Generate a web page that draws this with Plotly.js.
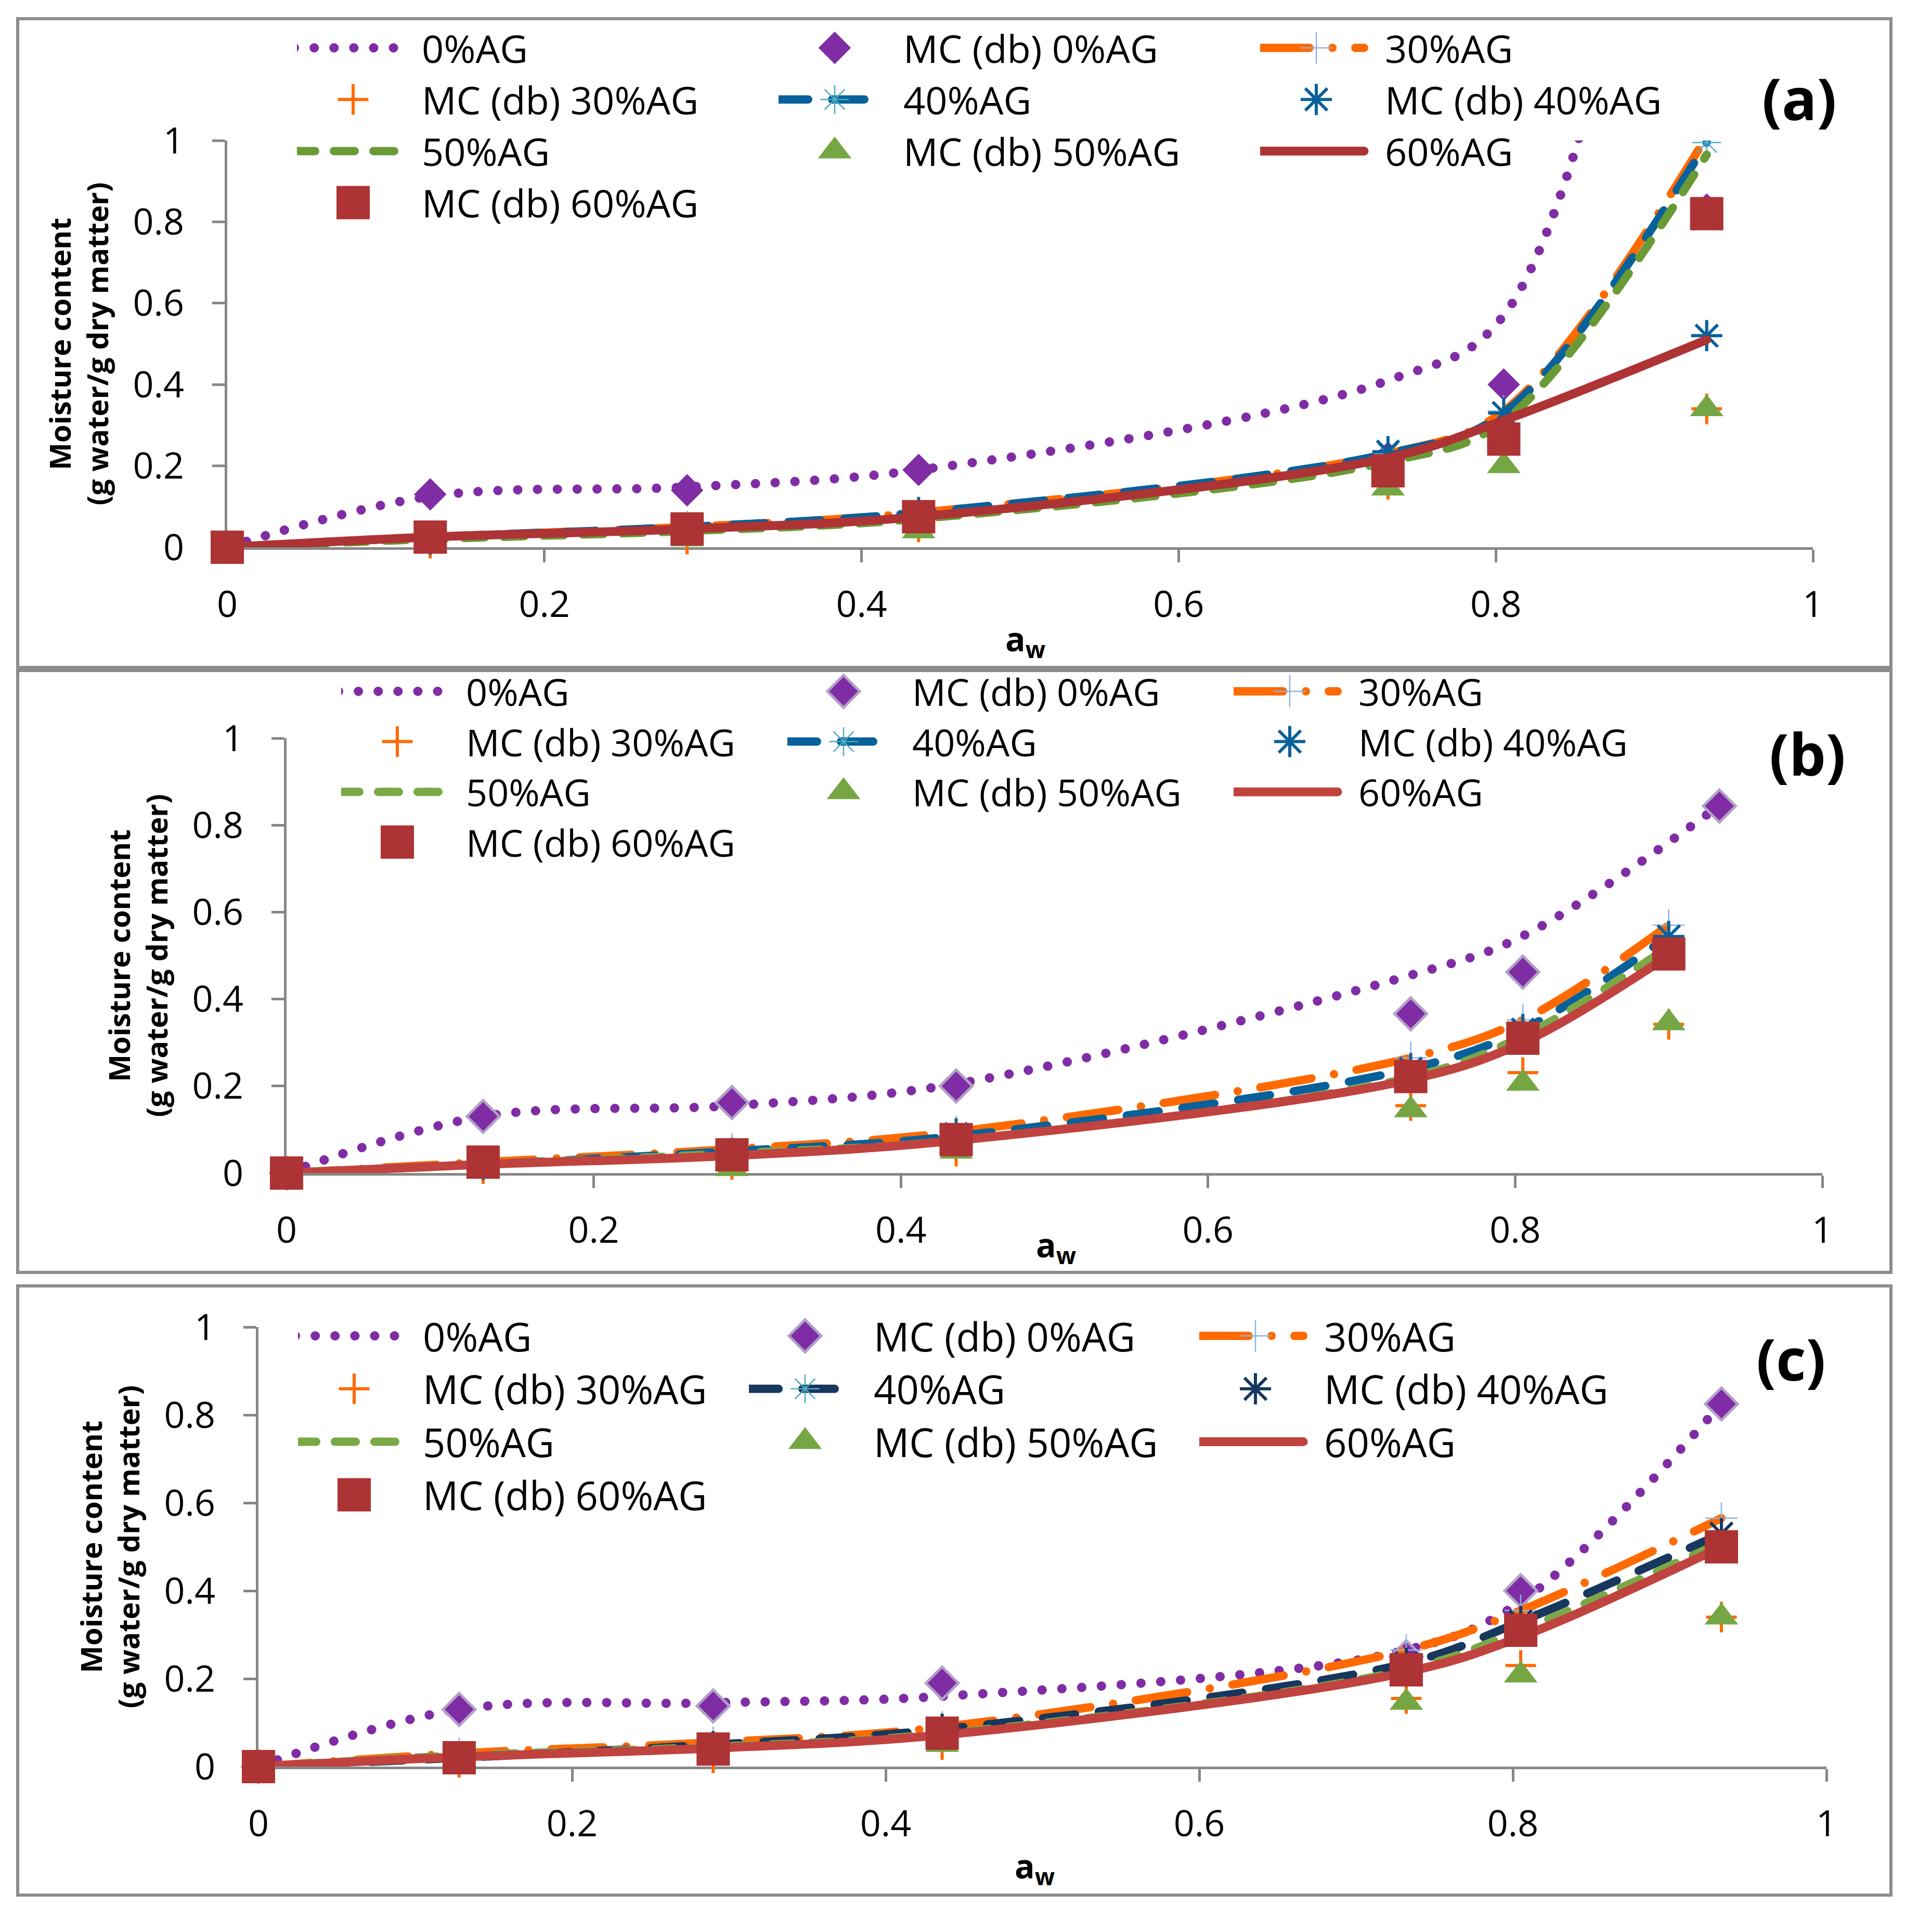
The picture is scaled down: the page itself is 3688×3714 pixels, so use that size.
<!DOCTYPE html>
<html>
<head>
<meta charset="utf-8">
<script src="https://cdn.plot.ly/plotly-3.0.1.min.js"></script>
<style>
html,body{margin:0;padding:0;background:#ffffff;}
#chart{width:3688px;height:3714px;}
.js-line{stroke-linecap:round;}
</style>
</head>
<body>
<div id="chart"></div>
<script>
// ---------------- DATA ----------------
const seriesNames = ["0%AG", "MC (db) 0%AG", "30%AG", "MC (db) 30%AG", "40%AG",
                     "MC (db) 40%AG", "50%AG", "MC (db) 50%AG", "60%AG", "MC (db) 60%AG"];

const tickVals = [0, 0.2, 0.4, 0.6, 0.8, 1];
const tickText = ["0", "0.2", "0.4", "0.6", "0.8", "1"];

// water activity levels
const awFull  = [0, 0.128, 0.29, 0.436, 0.732, 0.805, 0.933];
const awShort = [0, 0.128, 0.29, 0.436, 0.732, 0.805, 0.90];

// Panel (a) - fitted curves
const fitA_0  = [0, 0.125, 0.148, 0.19, 0.41, 0.57, 2.4];
const fitA_30 = [0, 0.025, 0.05, 0.085, 0.23, 0.335, 1.01];
const fitA_40 = [0, 0.025, 0.05, 0.085, 0.23, 0.33, 0.995];
const fitA_50 = [0, 0.02, 0.04, 0.07, 0.21, 0.31, 0.965];
const fitA_60 = [0, 0.025, 0.045, 0.075, 0.22, 0.312, 0.51];
// Panel (a) - measured MC (db)
const mcA_0  = [0, 0.13, 0.14, 0.19, 0.22, 0.40, 0.83];
const mcA_30 = [0, 0.01, 0.02, 0.05, 0.155, 0.23, 0.34];
const mcA_40 = [0, 0.02, 0.045, 0.085, 0.235, 0.33, 0.52];
const mcA_50 = [0, 0.005, 0.02, 0.04, 0.145, 0.20, 0.34];
const mcA_60 = [0, 0.025, 0.045, 0.075, 0.188, 0.266, 0.82];

// Panel (b) - fitted curves
const fitB_0  = [0, 0.13, 0.155, 0.205, 0.455, 0.545, 0.845];
const fitB_30 = [0, 0.025, 0.055, 0.095, 0.265, 0.352, 0.57];
const fitB_40 = [0, 0.02, 0.05, 0.085, 0.24, 0.33, 0.545];
const fitB_50 = [0, 0.02, 0.045, 0.075, 0.22, 0.315, 0.52];
const fitB_60 = [0, 0.02, 0.04, 0.075, 0.215, 0.30, 0.50];
// Panel (b) - measured MC (db)
const mcB_0  = [0, 0.13, 0.162, 0.20, 0.366, 0.462, 0.844];
const mcB_30 = [0, 0.01, 0.02, 0.05, 0.155, 0.231, 0.342];
const mcB_40 = [0, 0.02, 0.045, 0.09, 0.24, 0.33, 0.544];
const mcB_50 = [0, 0.005, 0.01, 0.05, 0.145, 0.206, 0.345];
const mcB_60 = [0, 0.025, 0.042, 0.077, 0.222, 0.31, 0.504];

// Panel (c) - fitted curves
const fitC_0  = [0, 0.13, 0.145, 0.16, 0.265, 0.375, 0.825];
const fitC_30 = [0, 0.03, 0.055, 0.09, 0.265, 0.355, 0.565];
const fitC_40 = [0, 0.02, 0.05, 0.085, 0.235, 0.33, 0.53];
const fitC_50 = [0, 0.025, 0.045, 0.075, 0.22, 0.31, 0.51];
const fitC_60 = [0, 0.022, 0.042, 0.072, 0.215, 0.295, 0.50];
// Panel (c) - measured MC (db)
const mcC_0  = [0, 0.13, 0.138, 0.19, 0.25, 0.40, 0.825];
const mcC_30 = [0, 0.01, 0.02, 0.05, 0.155, 0.23, 0.34];
const mcC_40 = [0, 0.02, 0.045, 0.085, 0.235, 0.33, 0.53];
const mcC_50 = [0, 0.005, 0.02, 0.05, 0.146, 0.208, 0.34];
const mcC_60 = [0, 0.02, 0.04, 0.076, 0.22, 0.31, 0.50];

// ---------------- LAYOUT GEOMETRY ----------------
const W = 3688, H = 3714, MR = 150, PW = W - MR;
const fx = px => px / PW;
const fy = py => 1 - py / H;

const GRAY = '#878787';
const PURPLE = '#7F2CA5', ORANGE = '#FF6A00', SQ = '#AD3334', TRI = '#76A643';

// legend column for each series (3 columns, filled row by row)
const legendColumn = [0, 1, 2, 0, 1, 2, 0, 1, 2, 0];

const panels = [
  {xa: 'x', ya: 'y', label: '(a)',
   xs: awFull, xsFit: awFull, xs0: awFull,
   fits: [fitA_0, fitA_30, fitA_40, fitA_50, fitA_60],
   mcs: [mcA_0, mcA_30, mcA_40, mcA_50, mcA_60],
   blue: '#08619A', green: '#6A9A35', red: '#AE3335', diaLine: 0},
  {xa: 'x2', ya: 'y2', label: '(b)',
   xs: awShort, xsFit: awShort, xs0: awFull,
   fits: [fitB_0, fitB_30, fitB_40, fitB_50, fitB_60],
   mcs: [mcB_0, mcB_30, mcB_40, mcB_50, mcB_60],
   blue: '#08619A', green: '#7AA846', red: '#C0433F', diaLine: 5},
  {xa: 'x3', ya: 'y3', label: '(c)',
   xs: awFull, xsFit: awFull, xs0: awFull,
   fits: [fitC_0, fitC_30, fitC_40, fitC_50, fitC_60],
   mcs: [mcC_0, mcC_30, mcC_40, mcC_50, mcC_60],
   blue: '#17375E', green: '#7AA846', red: '#C0433F', diaLine: 5}
];

function legendId(panelIdx, col) {
  const n = panelIdx * 3 + col + 1;
  return n === 1 ? 'legend' : 'legend' + n;
}

function panelTraces(p, pi) {
  const t = [];
  const base = (i) => ({type: 'scatter', xaxis: p.xa, yaxis: p.ya, hoverinfo: 'skip',
    name: seriesNames[i], legend: legendId(pi, legendColumn[i])});
  t.push(Object.assign(base(0), {mode: 'lines', x: p.xs0, y: p.fits[0],
    line: {color: PURPLE, width: 18, dash: '0.1px,38px', shape: 'spline', smoothing: 1}}));
  t.push(Object.assign(base(1), {mode: 'markers', x: p.xs0, y: p.mcs[0], cliponaxis: false,
    marker: {symbol: 'diamond', size: 48, color: PURPLE, line: {width: p.diaLine, color: '#B2A1C7'}}}));
  t.push(Object.assign(base(2), {mode: 'lines+markers', x: p.xsFit, y: p.fits[1],
    line: {color: ORANGE, width: 16, dash: '100px,44px,0.1px,44px', shape: 'spline', smoothing: 1},
    marker: {symbol: 'cross-thin-open', size: 44, color: '#8DB4E2', line: {width: 2.5, color: '#8DB4E2'}}}));
  t.push(Object.assign(base(3), {mode: 'markers', x: p.xs, y: p.mcs[1], cliponaxis: false,
    marker: {symbol: 'cross-thin-open', size: 42, color: ORANGE, line: {width: 6, color: ORANGE}}}));
  t.push(Object.assign(base(4), {mode: 'lines+markers', x: p.xsFit, y: p.fits[2],
    line: {color: p.blue, width: 16, dash: '62px,46px', shape: 'spline', smoothing: 1},
    marker: {symbol: 'asterisk-open', size: 46, color: '#4BACC6', line: {width: 2.5, color: '#4BACC6'}}}));
  t.push(Object.assign(base(5), {mode: 'markers', x: p.xs, y: p.mcs[2], cliponaxis: false,
    marker: {symbol: 'asterisk-open', size: 50, color: p.blue, line: {width: 6, color: p.blue}}}));
  t.push(Object.assign(base(6), {mode: 'lines', x: p.xsFit, y: p.fits[3],
    line: {color: p.green, width: 16, dash: '40px,36px', shape: 'spline', smoothing: 1}}));
  t.push(Object.assign(base(7), {mode: 'markers', x: p.xs, y: p.mcs[3], cliponaxis: false,
    marker: {symbol: 'triangle-up', size: 56, color: TRI, line: {width: 0}}}));
  t.push(Object.assign(base(8), {mode: 'lines', x: p.xsFit, y: p.fits[4],
    line: {color: p.red, width: 17, dash: 'solid', shape: 'spline', smoothing: 1}}));
  t.push(Object.assign(base(9), {mode: 'markers', x: p.xs, y: p.mcs[4], cliponaxis: false,
    marker: {symbol: 'square', size: 64, color: SQ, line: {width: 0}}}));
  return t;
}

const data = [].concat(panelTraces(panels[0], 0), panelTraces(panels[1], 1), panelTraces(panels[2], 2));

// pixel geometry of each panel
const geo = [
  {x0: 437, x1: 3486, yTop: 270, yBot: 1052, box: [34, 36, 3636, 1283],
   legCols: [571, 1497, 2423], legRow1: 92, legFont: 74, xTitle: [1972, 1231], lab: [3460, 188]},
  {x0: 551, x1: 3504, yTop: 1419, yBot: 2255, box: [34, 1289, 3636, 2446],
   legCols: [656, 1514, 2372], legRow1: 1329, legFont: 72, xTitle: [2030, 2396], lab: [3475, 1448]},
  {x0: 497, x1: 3512, yTop: 2551, yBot: 3396, box: [34, 2472, 3636, 3643],
   legCols: [573, 1440, 2306], legRow1: 2568, legFont: 76, xTitle: [1989, 3590], lab: [3444, 2610]}
];

function xAxis(g, anchor) {
  return {domain: [fx(g.x0), fx(g.x1)], anchor: anchor, range: [0, 1], autorange: false,
    tickmode: 'array', tickvals: tickVals, ticktext: tickText,
    ticks: 'outside', ticklen: 24, tickwidth: 5, tickcolor: GRAY,
    showline: true, linecolor: GRAY, linewidth: 5, showgrid: false, zeroline: false,
    tickfont: {size: 70, color: '#000'}, ticklabelstandoff: 21, layer: 'below traces'};
}
function yAxis(g, anchor) {
  return {domain: [fy(g.yBot), fy(g.yTop)], anchor: anchor, range: [0, 1], autorange: false,
    tickmode: 'array', tickvals: tickVals, ticktext: tickText,
    ticks: 'outside', ticklen: 24, tickwidth: 5, tickcolor: GRAY,
    showline: true, linecolor: GRAY, linewidth: 5, showgrid: false, zeroline: false,
    tickfont: {size: 70, color: '#000'}, ticklabelstandoff: 40, layer: 'below traces',
    title: {text: '<b>Moisture content<br>(g water/g dry matter)</b>', font: {size: 56, color: '#000'}, standoff: 30}};
}
function legendCfg(g, col) {
  const h = 1.3 * g.legFont + 3;
  return {orientation: 'v', x: fx(g.legCols[col]), y: fy(g.legRow1 - h / 2 - 5), xanchor: 'left', yanchor: 'top',
    itemwidth: 230, font: {size: g.legFont, color: '#000'}, bgcolor: 'rgba(0,0,0,0)', borderwidth: 0,
    traceorder: 'normal', itemclick: false, itemdoubleclick: false};
}

const layout = {
  width: W, height: H,
  margin: {l: 0, r: MR, t: 0, b: 0, pad: 0},
  paper_bgcolor: '#ffffff', plot_bgcolor: 'rgba(0,0,0,0)',
  font: {family: 'Open Sans, Noto Sans, sans-serif', color: '#000'},
  showlegend: true,
  xaxis: xAxis(geo[0], 'y'), yaxis: yAxis(geo[0], 'x'),
  xaxis2: xAxis(geo[1], 'y2'), yaxis2: yAxis(geo[1], 'x2'),
  xaxis3: xAxis(geo[2], 'y3'), yaxis3: yAxis(geo[2], 'x3'),
  shapes: geo.map(g => ({type: 'rect', xref: 'paper', yref: 'paper', layer: 'below',
    x0: fx(g.box[0]), x1: fx(g.box[2]), y0: fy(g.box[3]), y1: fy(g.box[1]),
    line: {color: '#8C8C8C', width: 6}, fillcolor: 'rgba(0,0,0,0)'})),
  annotations: [].concat(
    geo.map((g, i) => ({text: '<b>' + panels[i].label + '</b>', xref: 'paper', yref: 'paper',
      x: fx(g.lab[0]), y: fy(g.lab[1]), xanchor: 'center', yanchor: 'middle', showarrow: false,
      font: {size: 112, color: '#000'}})),
    geo.map(g => ({text: '<b>a<sub>w</sub></b>', xref: 'paper', yref: 'paper',
      x: fx(g.xTitle[0]), y: fy(g.xTitle[1]), xanchor: 'center', yanchor: 'middle', showarrow: false,
      font: {size: 64, color: '#000'}})))
};
for (let pi = 0; pi < 3; pi++) {
  for (let c = 0; c < 3; c++) layout[legendId(pi, c)] = legendCfg(geo[pi], c);
}

// legend symbols: Plotly caps legend marker size at 16px, so scale them up to the trace size,
// shorten the line sample so there is a gap before the text, and centre the marker on it.
const LEG_LINE_PATH = 'M-5,0h205';
const LEG_MARK_X = 108;
function enlargeLegendSymbols(gd) {
  gd.querySelectorAll('.infolayer .traces').forEach(function (g) {
    const d = g.__data__;
    const tr = d && d[0] && d[0].trace;
    if (!tr) return;
    if (tr.marker && tr.marker.size && tr.mode.indexOf('markers') >= 0) {
      const ms = tr.marker.size;
      const k = ms / Math.min(ms, 16);
      const lw = (tr.marker.line && tr.marker.line.width) || 0;
      g.querySelectorAll('.legendpoints path.scatterpts').forEach(function (p) {
        p.setAttribute('transform', 'translate(' + LEG_MARK_X + ',0) scale(' + k + ')');
        p.style.strokeWidth = (lw / k) + 'px';
      });
    }
    if (tr.line && tr.line.width && tr.mode.indexOf('lines') >= 0) {
      g.querySelectorAll('.legendlines path').forEach(function (p) {
        p.setAttribute('d', LEG_LINE_PATH);
        p.style.strokeWidth = tr.line.width + 'px';
      });
    }
  });
}

const gd = document.getElementById('chart');
Plotly.newPlot(gd, data, layout, {displayModeBar: false, staticPlot: true}).then(enlargeLegendSymbols);
</script>
</body>
</html>
